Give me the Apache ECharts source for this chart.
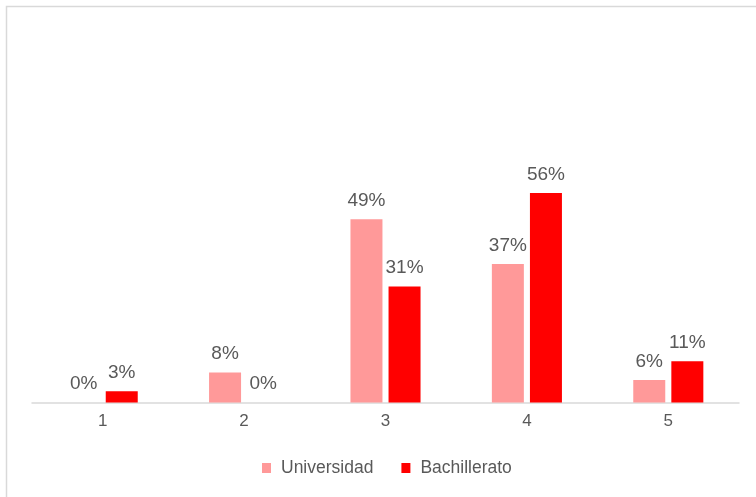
<!DOCTYPE html>
<html><head><meta charset="utf-8">
<script src="https://cdn.jsdelivr.net/npm/echarts@6/dist/echarts.min.js"></script>
<style>html,body{margin:0;padding:0;background:#fff}#c{width:756px;height:497px}</style>
</head><body><div id="c"></div>
<script>
const categories = ['1', '2', '3', '4', '5'];
const universidad = [0, 8, 49, 37, 6];
const bachillerato = [3, 0, 31, 56, 11];
const seriesNames = ['Universidad', 'Bachillerato'];

const chart = echarts.init(document.getElementById('c'), null, {renderer: 'canvas'});
const font = '"Liberation Sans", Arial, sans-serif';
const lbl = {show: true, position: 'top', distance: 9, formatter: '{c}%', color: '#595959', fontSize: 19, fontFamily: font};
chart.setOption({
  animation: false,
  graphic: [{type: 'rect', shape: {x: 6.5, y: 6.5, width: 760, height: 500}, style: {fill: 'none', stroke: '#d9d9d9', lineWidth: 1.5}, silent: true}],
  grid: {left: 32, right: 17, top: 28.5, bottom: 94.5},
  legend: {
    bottom: 15, left: 257, itemWidth: 9, itemHeight: 10, itemGap: 28, icon: 'rect',
    textStyle: {color: '#595959', fontSize: 17.5, fontFamily: font, padding: [0, 0, 0, 5]},
    data: seriesNames
  },
  xAxis: {
    type: 'category', data: categories,
    axisLine: {lineStyle: {color: '#d9d9d9', width: 1.5}},
    axisTick: {show: false},
    axisLabel: {color: '#595959', fontSize: 17, fontFamily: font, margin: 10}
  },
  yAxis: {type: 'value', min: 0, max: 100, show: false, splitLine: {show: false}},
  series: [
    {name: seriesNames[0], type: 'bar', data: universidad, barWidth: 32, barGap: '19%', itemStyle: {color: '#FF9999'}, label: lbl},
    {name: seriesNames[1], type: 'bar', data: bachillerato, barWidth: 32, itemStyle: {color: '#FF0000'}, label: lbl}
  ]
});
</script></body></html>
